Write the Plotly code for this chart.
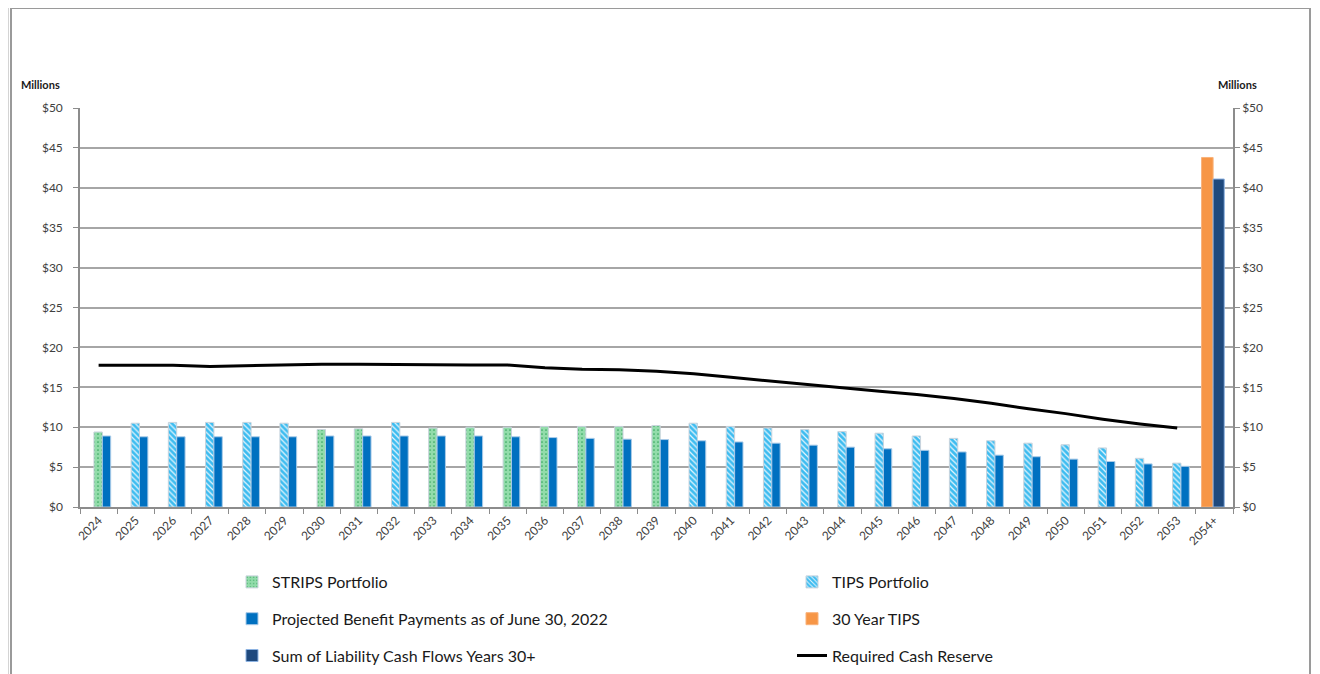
import plotly.graph_objects as go

categories = [str(y) for y in range(2024, 2054)] + ["2054+"]

strips_years = ["2024", "2030", "2031", "2033", "2034", "2035", "2036", "2037", "2038", "2039"]
strips_vals = [9.4, 9.7, 9.8, 9.9, 10.0, 10.0, 10.1, 10.1, 10.1, 10.2]

tips_years = ["2025", "2026", "2027", "2028", "2029", "2032"] + [str(y) for y in range(2040, 2054)]
tips_vals = [10.5, 10.6, 10.6, 10.6, 10.5, 10.6,
             10.5, 10.1, 9.9, 9.7, 9.45, 9.25, 8.9, 8.6, 8.3, 8.0, 7.8, 7.4, 6.1, 5.5]

benefit_years = [str(y) for y in range(2024, 2054)]
benefit_vals = [8.9, 8.8, 8.8, 8.8, 8.8, 8.8, 8.9, 8.9, 8.9, 8.9,
                8.9, 8.8, 8.7, 8.6, 8.5, 8.45, 8.3, 8.15, 8.0, 7.75,
                7.5, 7.3, 7.1, 6.9, 6.5, 6.3, 6.0, 5.7, 5.4, 5.1]

reserve_vals = [17.75, 17.75, 17.75, 17.6, 17.7, 17.8, 17.9, 17.9, 17.85, 17.85,
                17.8, 17.8, 17.45, 17.25, 17.2, 17.0, 16.7, 16.25, 15.8, 15.4,
                14.9, 14.5, 14.1, 13.6, 13.0, 12.3, 11.7, 11.0, 10.4, 9.9]

tail_category = ["2054+"]
thirty_year_tips = [43.8]
liability_30plus = [41.1]

FONT = "Lato"

fig = go.Figure()

fig.add_trace(go.Bar(
    x=strips_years, y=strips_vals, name="STRIPS Portfolio",
    offset=-0.125, width=0.225,
    marker=dict(color="#92dcaa", line=dict(color="#c9d3dc", width=1),
                pattern=dict(shape=".", fgcolor="#3aa862", bgcolor="#92dcaa",
                             size=4, solidity=0.15, fillmode="replace")),
    legend="legend", legendgroup="a"))

fig.add_trace(go.Bar(
    x=tips_years, y=tips_vals, name="TIPS Portfolio",
    offset=-0.125, width=0.225,
    marker=dict(color="#3dbcf0", line=dict(color="#c9d3dc", width=1),
                pattern=dict(shape="\\", fgcolor="#e8f6fd", bgcolor="#3dbcf0",
                             size=4, solidity=0.3, fillmode="replace")),
    legend="legend2", legendgroup="b"))

fig.add_trace(go.Bar(
    x=benefit_years, y=benefit_vals, name="Projected Benefit Payments as of June 30, 2022",
    offset=0.1, width=0.225,
    marker=dict(color="#0070c0", line=dict(color="#a9cbe8", width=1)),
    legend="legend", legendgroup="c"))

fig.add_trace(go.Bar(
    x=tail_category, y=thirty_year_tips, name="30 Year TIPS",
    offset=-0.345, width=0.31, yaxis="y2",
    marker=dict(color="#f79646", line=dict(color="#f9b27a", width=1)),
    legend="legend2", legendgroup="d"))

fig.add_trace(go.Bar(
    x=tail_category, y=liability_30plus, name="Sum of Liability Cash Flows Years 30+",
    offset=-0.035, width=0.30, yaxis="y2",
    marker=dict(color="#1f497d", line=dict(color="#8db3e2", width=1)),
    legend="legend", legendgroup="e"))

fig.add_trace(go.Scatter(
    x=benefit_years, y=reserve_vals, name="Required Cash Reserve",
    mode="lines", line=dict(color="#000000", width=3),
    legend="legend2", legendgroup="f"))

OFF = 8  # page offset of the figure
W, H = 1320 - OFF, 674 - OFF
L, R, T, B = 80, 1233, 108, 507  # page coordinates of plot area
pw, ph = R - L, B - T

def px(x):
    return (x - L) / pw

def py(y):
    return (B - y) / ph

axis_common = dict(
    range=[0, 50], dtick=5, tickprefix="$",
    showgrid=True, gridcolor="#a6a6a6", gridwidth=1.5,
    showline=True, linecolor="#8c8c8c", linewidth=1.5,
    ticks="outside", ticklen=5, tickcolor="#8c8c8c",
    tickfont=dict(family=FONT, size=12, color="#404040"),
    zeroline=False, fixedrange=True,
)

legend_common = dict(
    xanchor="left", yanchor="top",
    orientation="v", tracegroupgap=13, bgcolor="rgba(0,0,0,0)",
    font=dict(family=FONT, size=16, color="#1a1a1a"),
    traceorder="grouped",
)

fig.update_layout(
    width=W, height=H,
    margin=dict(l=L - OFF, r=W - (R - OFF), t=T - OFF, b=H - (B - OFF),
                autoexpand=False),
    paper_bgcolor="white", plot_bgcolor="white",
    barmode="overlay",
    font=dict(family=FONT, color="#000000"),
    xaxis=dict(
        type="category", categoryorder="array", categoryarray=categories,
        range=[-0.5, len(categories) - 0.5],
        tickangle=-45, tickfont=dict(family=FONT, size=12, color="#404040"),
        showline=True, linecolor="#8c8c8c", linewidth=1.5,
        ticks="outside", tickson="boundaries", ticklen=5, tickcolor="#8c8c8c",
        showgrid=False,
    ),
    yaxis=dict(**axis_common, side="left", ticklabelstandoff=8),
    yaxis2=dict(**{**axis_common, "showgrid": False}, side="right", overlaying="y"),
    legend=dict(x=px(232), y=py(565), **legend_common),
    legend2=dict(x=px(792), y=py(565), **legend_common),
    annotations=[
        dict(text="<b>Millions</b>", xref="paper", yref="paper",
             x=px(40), y=py(84), xanchor="center", yanchor="middle", showarrow=False,
             font=dict(family=FONT, size=11, color="#1a1a1a")),
        dict(text="<b>Millions</b>", xref="paper", yref="paper",
             x=px(1237), y=py(84), xanchor="center", yanchor="middle", showarrow=False,
             font=dict(family=FONT, size=11, color="#1a1a1a")),
    ],
    shapes=[
        dict(type="rect", xref="paper", yref="paper",
             x0=px(8), x1=px(1313), y0=py(700), y1=py(5),
             line=dict(color="#d4d4d4", width=2), layer="below"),
        dict(type="rect", xref="paper", yref="paper",
             x0=px(11), x1=px(1310), y0=py(700), y1=py(8),
             line=dict(color="#9a9a9a", width=2), layer="below"),
    ],
)

fig.write_html("out.html")
